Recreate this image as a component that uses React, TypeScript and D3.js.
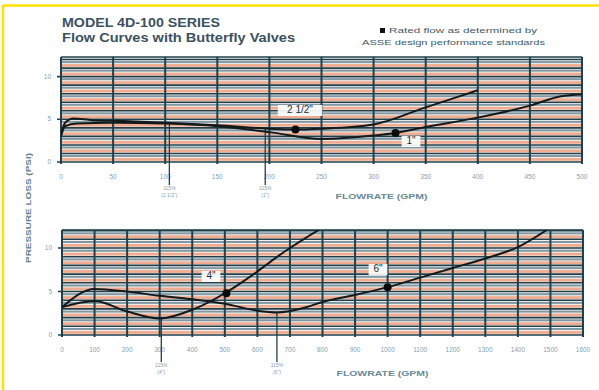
import React from 'react';
import * as d3 from 'd3';

const W = 599;
const H = 390;

// top panel (1" and 2 1/2")
const topXTicks = [0, 50, 100, 150, 200, 250, 300, 350, 400, 450, 500];
const topYTicks = [0, 5, 10];
const curve2half = [
  [0, 3.3], [4, 4.6], [12, 5.1], [30, 4.9], [60, 4.8], [100, 4.6], [150, 4.3],
  [200, 3.9], [225, 3.8], [250, 3.9], [300, 4.4], [350, 6.4], [400, 8.4],
];
const curve1 = [
  [0, 3.0], [4, 4.2], [15, 4.5], [50, 4.6], [100, 4.5], [150, 4.2], [200, 3.5],
  [250, 2.7], [300, 3.1], [321, 3.4], [350, 4.1], [400, 5.2], [450, 6.6],
  [480, 7.7], [500, 7.9],
];
const topRated = [
  { x: 225, y: 3.8, label: '2 1/2"', lx: 300, ly: 113 },
  { x: 321, y: 3.4, label: '1"', lx: 411, ly: 144 },
];
const topMarks = [
  { x: 104, y: 4.6, lines: ['115%', '(2 1/2")'] },
  { x: 196, y: 3.9, lines: ['115%', '(1")'] },
];

// bottom panel (4" and 6")
const botXTicks = [0, 100, 200, 300, 400, 500, 600, 700, 800, 900, 1000, 1100, 1200, 1300, 1400, 1500, 1600];
const botYTicks = [0, 5, 10];
const curve4 = [
  [0, 3.2], [100, 3.9], [200, 2.7], [300, 1.9], [400, 2.9], [500, 4.8], [550, 6.0],
  [600, 7.3], [650, 8.7], [700, 10.0], [750, 11.2], [790, 12.1],
];
const curve6 = [
  [0, 3.2], [100, 5.3], [200, 5.0], [300, 4.5], [400, 4.1], [500, 3.6], [600, 2.8],
  [660, 2.6], [750, 3.2], [800, 3.8], [900, 4.6], [1000, 5.5], [1100, 6.6],
  [1200, 7.7], [1300, 8.8], [1400, 10.1], [1490, 12.1],
];
const botRated = [
  { x: 505, y: 4.8, label: '4"', lx: 211, ly: 279 },
  { x: 1000, y: 5.5, label: '6"', lx: 378, ly: 272 },
];
const botMarks = [
  { x: 305, y: 1.9, lines: ['115%', '(4")'] },
  { x: 660, y: 2.6, lines: ['115%', '(6")'] },
];

const dark = '#21404c';
const tickCol = '#86a2b0';

function Panel({ id, x0, x1, yTop, yBot, xMax, yMax, xTicks, yTicks, curves, rated, marks, tickY, markEnd, title, titleY }) {
  const x = d3.scaleLinear().domain([0, xMax]).range([x0, x1]);
  const y = d3.scaleLinear().domain([0, yMax]).range([yBot, yTop]);
  const line = d3.line().x(d => x(d[0])).y(d => y(d[1])).curve(d3.curveMonotoneX);
  const units = d3.range(0, Math.floor(yMax) + 1);
  return (
    <g>
      <defs>
        <clipPath id={id}>
          <rect x={x0} y={yTop} width={x1 - x0} height={yBot - yTop} />
        </clipPath>
      </defs>
      <rect x={x0} y={yTop} width={x1 - x0} height={yBot - yTop} fill="#f2f1ef" />
      {units.map(u => {
        const yy = y(u);
        const top = Math.max(yTop, y(u + 1));
        return (
          <g key={'b' + u}>
            {yy - 3 > top && <rect x={x0} y={yy - 4.0} width={x1 - x0} height={2.8} fill="#f0ac90" />}
            {yy - 6 > top && <rect x={x0} y={yy - 7.0} width={x1 - x0} height={2.0} fill="#7f98a3" />}
          </g>
        );
      })}
      {units.map(u => (
        <line key={'h' + u} x1={x0 - (yTicks.includes(u) ? 4 : 0)} x2={x1} y1={y(u)} y2={y(u)} stroke={dark} strokeWidth={1.6} />
      ))}
      <line x1={x0} x2={x1} y1={yTop} y2={yTop} stroke={dark} strokeWidth={1.6} />
      {xTicks.map(t => (
        <line key={'v' + t} x1={x(t)} x2={x(t)} y1={yTop} y2={yBot + 2} stroke={dark} strokeWidth={2} />
      ))}
      {xTicks.map(t => (
        <text key={'xt' + t} x={x(t)} y={tickY} fontSize={6.5} fill={tickCol} textAnchor="middle">{t}</text>
      ))}
      {yTicks.map(t => (
        <text key={'yt' + t} x={x0 - 10} y={y(t) + 2} fontSize={6.5} fill={tickCol} textAnchor="end">{t}</text>
      ))}
      {marks.map((m, i) => (
        <g key={'m' + i}>
          <line x1={x(m.x)} x2={x(m.x)} y1={y(m.y)} y2={markEnd} stroke={dark} strokeWidth={1.3} />
          {m.lines.map((s, j) => (
            <text key={j} x={x(m.x)} y={markEnd + 5 + j * 6.5} fontSize={5} fill={tickCol} textAnchor="middle">{s}</text>
          ))}
        </g>
      ))}
      <g clipPath={`url(#${id})`}>
        {curves.map((c, i) => (
          <path key={'c' + i} d={line(c)} fill="none" stroke="#141a1c" strokeWidth={2} />
        ))}
      </g>
      {rated.map((r, i) => (
        <g key={'r' + i}>
          <circle cx={x(r.x)} cy={y(r.y)} r={4} fill="#0a0a0a" />
          <rect x={r.lx - r.label.length * 3.2 - 3} y={r.ly - 8} width={r.label.length * 6.4 + 6} height={11} fill="#ffffff" opacity={0.9} />
          <text x={r.lx} y={r.ly} fontSize={10} fill="#1c2c34" textAnchor="middle">{r.label}</text>
        </g>
      ))}
      <text x={(x0 + x1) / 2 + 60} y={titleY} fontSize={7.5} fontWeight="bold" fill="#6a8a98" textAnchor="middle" textLength={92} lengthAdjust="spacingAndGlyphs">{title}</text>
    </g>
  );
}

export default function App() {
  return (
    <svg width={W} height={H} style={{ position: 'absolute', left: 0, top: 0, background: '#fff' }} fontFamily="Liberation Sans">
      <rect x={0} y={0} width={W} height={H} fill="#fff" />
      <line x1={3} x2={W} y1={5.5} y2={5.5} stroke="#ffe000" strokeWidth={2.5} />
      <line x1={3} x2={3} y1={5} y2={H} stroke="#ffe000" strokeWidth={2.5} />

      <text x={62} y={27} fontSize={12.5} fontWeight="bold" fill="#3b5260" textLength={158} lengthAdjust="spacingAndGlyphs">MODEL 4D-100 SERIES</text>
      <text x={62} y={42} fontSize={12.5} fontWeight="bold" fill="#3b5260" textLength={233} lengthAdjust="spacingAndGlyphs">Flow Curves with Butterfly Valves</text>

      <rect x={380} y={28} width={5} height={5} fill="#111" />
      <text x={389} y={33} fontSize={8} fill="#3f5a68" textLength={148} lengthAdjust="spacingAndGlyphs">Rated flow as determined by</text>
      <text x={362} y={45} fontSize={8} fill="#3f5a68" textLength={183} lengthAdjust="spacingAndGlyphs">ASSE design performance standards</text>

      <text transform="translate(31,208) rotate(-90)" fontSize={7} fontWeight="bold" fill="#5f8190" textAnchor="middle" textLength={110} lengthAdjust="spacingAndGlyphs">PRESSURE LOSS (PSI)</text>

      <Panel id="clipTop" x0={61} x1={582} yTop={57} yBot={162} xMax={500} yMax={12.3}
        xTicks={topXTicks} yTicks={topYTicks} curves={[curve2half, curve1]} rated={topRated}
        marks={topMarks} tickY={179} markEnd={185} title="FLOWRATE (GPM)" titleY={199} />
      <Panel id="clipBot" x0={62} x1={583} yTop={230} yBot={335} xMax={1600} yMax={12.07}
        xTicks={botXTicks} yTicks={botYTicks} curves={[curve4, curve6]} rated={botRated}
        marks={botMarks} tickY={352} markEnd={362} title="FLOWRATE (GPM)" titleY={376} />
    </svg>
  );
}
